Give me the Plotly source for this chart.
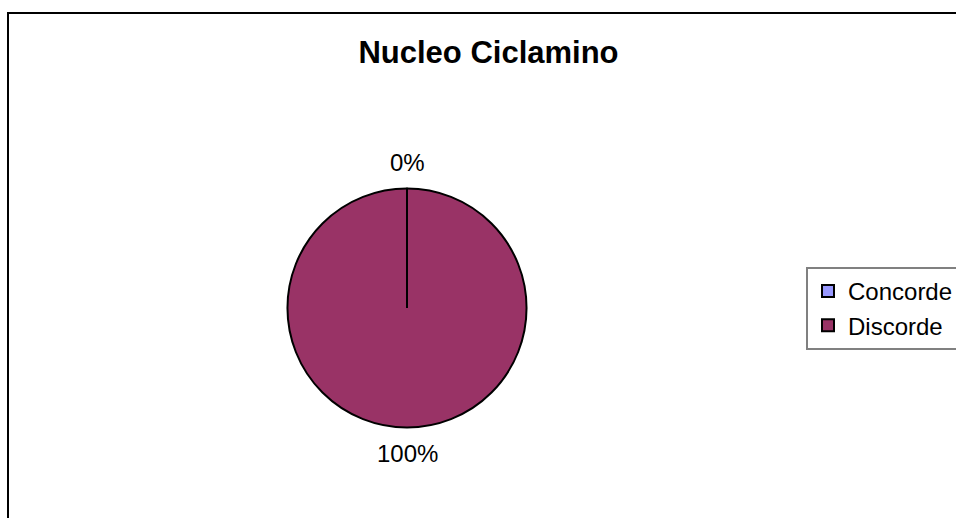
import math
import plotly.graph_objects as go

labels = ["Concorde", "Discorde"]
values = [0, 100]
colors = ["#9999FF", "#993366"]
title_text = "Nucleo Ciclamino"

W, H = 956, 518
cx, cy, r = 407, 308, 119.5
label_gap = 26
FONT = "Liberation Sans, Arial"

fig = go.Figure()
fig.add_trace(go.Pie(
    labels=labels,
    values=values,
    sort=False,
    direction="clockwise",
    rotation=0,
    marker=dict(colors=colors, line=dict(color="black", width=2)),
    textinfo="none",
    domain=dict(x=[(cx - r) / W, (cx + r) / W], y=[1 - (cy + r) / H, 1 - (cy - r) / H]),
    hoverinfo="label+percent",
    showlegend=True,
))

# percent labels placed outside each slice at its mid-angle
total = sum(values)
annotations = []
shapes = []
cum = 0.0
for lab, v in zip(labels, values):
    frac = v / total
    start_ang = 2 * math.pi * cum
    mid = 2 * math.pi * (cum + frac / 2)
    R = r + label_gap
    px = cx + R * math.sin(mid)
    py = cy - R * math.cos(mid)
    annotations.append(dict(
        x=px / W, y=1 - py / H, xref="paper", yref="paper",
        text=f"{round(frac * 100)}%", showarrow=False,
        xanchor="center", yanchor="middle",
        font=dict(size=24, color="black", family=FONT),
    ))
    # slice boundary line (pie draws a full circle for a single 100% slice)
    shapes.append(dict(
        type="line", xref="paper", yref="paper",
        x0=cx / W, y0=1 - cy / H,
        x1=(cx + r * math.sin(start_ang)) / W, y1=1 - (cy - r * math.cos(start_ang)) / H,
        line=dict(color="black", width=2),
    ))
    cum += frac

shapes.append(dict(type="rect", xref="paper", yref="paper",
                   x0=8 / W, x1=1.2, y0=-0.2, y1=1 - 13 / H,
                   line=dict(color="black", width=2), fillcolor="rgba(0,0,0,0)"))

fig.update_layout(
    width=W, height=H,
    margin=dict(l=0, r=0, t=0, b=0, autoexpand=False),
    paper_bgcolor="white",
    plot_bgcolor="white",
    font=dict(family=FONT, color="black"),
    title=dict(text="<b>" + title_text + "</b>", x=488.5 / W, xanchor="center",
               y=1 - 52.5 / H, yanchor="middle",
               font=dict(size=31, color="black", family=FONT)),
    legend=dict(x=806 / W, xanchor="left", y=1 - 267 / H, yanchor="top",
                bgcolor="white", bordercolor="#808080", borderwidth=2,
                font=dict(size=24, color="black", family=FONT),
                itemclick=False),
    annotations=annotations,
    shapes=shapes,
)

fig.write_html("out.html")
